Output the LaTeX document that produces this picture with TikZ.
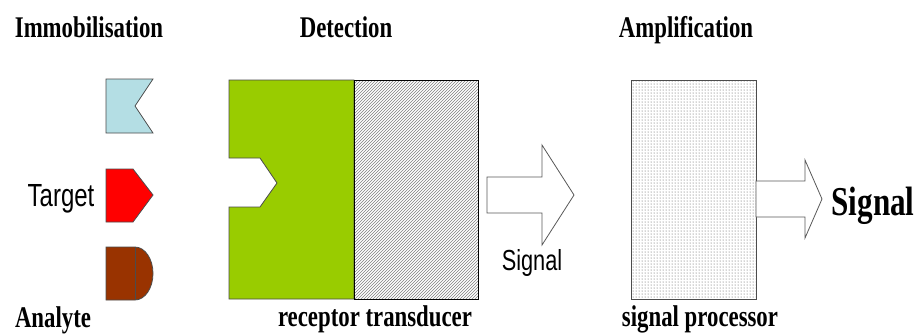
\documentclass[tikz,border=0pt]{standalone}
\usepackage{fontspec}
\newfontfamily\headfont[FakeStretch=0.76]{Liberation Serif}
\newfontfamily\tagfont[FakeStretch=0.75]{Liberation Sans}
\usetikzlibrary{patterns}
\definecolor{flagblue}{RGB}{180,222,228}
\definecolor{analytebrown}{RGB}{153,51,0}
\definecolor{receptorgreen}{RGB}{153,204,0}
\tikzset{
  head/.style={anchor=base, inner sep=0pt, font=\headfont\bfseries\fontsize{30}{30}\selectfont},
  tag/.style={anchor=base, inner sep=0pt, font=\tagfont\fontsize{29}{29}\selectfont},
  blockarrow/.style={draw=black!65, fill=white, line width=0.8pt, line join=miter},
  part/.style={draw=black!70, line width=0.8pt}
}

\begin{document}
\begin{tikzpicture}[x=1pt, y=-1pt]
		\useasboundingbox (0,0) rectangle (919,333);
		\fill[white] (0,0) rectangle (919,333);
		\draw[part, fill=flagblue] (106,79) -- (153,79) -- (135,106) -- (153,133) -- (106,133) -- cycle;
		\draw[part, fill=red] (106,169) -- (133,169) -- (153,195) -- (133,222) -- (106,222) -- cycle;
		\draw[part, fill=analytebrown] (106,247) -- (135,247) arc[start angle=-90, end angle=90, x radius=18, y radius=26.5] -- (106,300) -- cycle;
		\draw[part] (135,247) -- (135,300);
		\draw[part, fill=receptorgreen] (229,80) -- (354,80) -- (354,299) -- (229,299) -- (229,207) -- (260,207) -- (277,183) -- (260,158) -- (229,158) -- cycle;
		\fill[white] (354,80) rectangle (478,299);
		\fill[pattern=north east lines, pattern color=black!50] (354,80) rectangle (478,299);
		\draw[part, draw=black] (354,80) rectangle (478,299);
		\draw[blockarrow] (487,177) -- (542,177) -- (542,145) -- (574,195) -- (542,245) -- (542,213) -- (487,213) -- cycle;
		\fill[pattern=dots, pattern color=black!70] (631,80) rectangle (756,299);
		\draw[part] (631,80) rectangle (756,299);
		\draw[blockarrow] (756,181) -- (805,181) -- (805,160) -- (822,199) -- (805,238) -- (805,217) -- (756,217) -- cycle;
		\node[head] (immob) at (89,37) {Immobilisation};
		\node[head] (detect) at (346,37) {Detection};
		\node[head] (ampli) at (686,37) {Amplification};
		\node[tag, font=\tagfont\fontsize{32}{32}\selectfont] (target) at (61,206) {Target};
		\node[tag] (signalout) at (532,270) {Signal};
		\node[head, font=\headfont\bfseries\fontsize{41}{41}\selectfont] (signalend) at (873,215) {Signal};
		\node[head] (analyte) at (53,327) {Analyte};
		\node[head] (rectrans) at (375,326) {receptor\ transducer};
		\node[head] (sigproc) at (700,326) {signal processor};
	\end{tikzpicture}
\end{document}
